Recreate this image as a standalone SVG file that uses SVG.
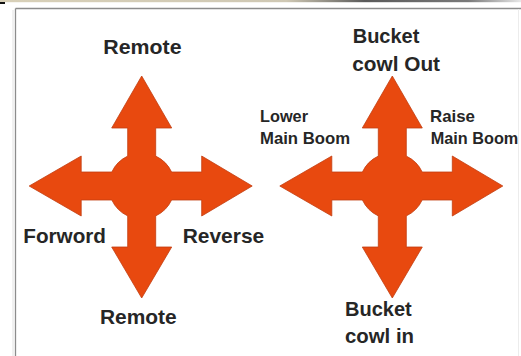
<svg xmlns="http://www.w3.org/2000/svg" width="521" height="356" viewBox="0 0 521 356">
  <defs>
    <style>
      .lbl { font-family: "Liberation Sans", Arial, sans-serif; font-weight: bold; fill: #262626; }
      .big { font-size: 20.5px; }
      .mid { font-size: 20px; }
      .small { font-size: 16.3px; }
      .cross { fill: #E8490F; stroke: #C23E10; stroke-width: 0.8; stroke-linejoin: miter; }
      .frame { stroke: #8c8c8c; stroke-width: 1.3; fill: none; }
    </style>
    <linearGradient id="topband" x1="0" y1="0" x2="1" y2="0">
      <stop offset="0" stop-color="#d8d0b8"/>
      <stop offset="0.55" stop-color="#cfc8b4"/>
      <stop offset="0.7" stop-color="#5a5a5a"/>
      <stop offset="0.9" stop-color="#7a7a7a"/>
      <stop offset="1" stop-color="#e8e8e8"/>
    </linearGradient>
    <!-- four-way arrow cross with a central hub, drawn around (0,0) -->
    <path id="cross4" d="M 0,-110 L 30,-58 L 14,-58 L 14,-29.9 A 33 33 0 0 1 29.9,-14 L 60,-14 L 60,-30 L 110.5,0 L 60,30 L 60,14 L 29.9,14 A 33 33 0 0 1 14,29.9 L 14,61 L 30,61 L 0,112 L -30,61 L -14,61 L -14,29.9 A 33 33 0 0 1 -29.9,14 L -60.5,14 L -60.5,30 L -112.5,0 L -60.5,-30 L -60.5,-14 L -29.9,-14 A 33 33 0 0 1 -14,-29.9 L -14,-58 L -30,-58 Z"/>
  </defs>

  <rect width="521" height="356" fill="#ffffff"/>

  <!-- panel edge -->
  <g id="frame">
    <rect x="0" y="0" width="521" height="2.2" fill="url(#topband)"/>
    <rect x="0" y="2" width="5" height="2" fill="#111"/>
    <line class="frame" x1="15.5" y1="8.5" x2="521" y2="8.5"/>
    <line class="frame" x1="15.5" y1="8.5" x2="15.5" y2="356"/>
    <line x1="13" y1="10" x2="13" y2="356" stroke="#e2e2e2" stroke-width="1"/>
    <line x1="518.5" y1="9" x2="518.5" y2="356" stroke="#ececec" stroke-width="1"/>
  </g>

  <!-- drive control -->
  <g id="drive-cross">
    <use href="#cross4" class="cross" transform="translate(141.7,186)"/>
  </g>
  <g id="drive-up"><text class="lbl big" x="103.3" y="54" textLength="78.3" lengthAdjust="spacingAndGlyphs">Remote</text></g>
  <g id="drive-left"><text class="lbl big" x="23.3" y="242.7" textLength="82.7" lengthAdjust="spacingAndGlyphs">Forword</text></g>
  <g id="drive-right"><text class="lbl big" x="182.7" y="242.7" textLength="81.5" lengthAdjust="spacingAndGlyphs">Reverse</text></g>
  <g id="drive-down"><text class="lbl big" x="100" y="323.7" textLength="76.7" lengthAdjust="spacingAndGlyphs">Remote</text></g>

  <!-- boom and bucket control -->
  <g id="boom-cross">
    <use href="#cross4" class="cross" transform="translate(392.3,186)"/>
  </g>
  <g id="boom-up">
    <text class="lbl mid" x="352.7" y="43.3" textLength="66.7" lengthAdjust="spacingAndGlyphs">Bucket</text>
    <text class="lbl mid" x="352.3" y="71" textLength="87.7" lengthAdjust="spacingAndGlyphs">cowl Out</text>
  </g>
  <g id="boom-left">
    <text class="lbl small" x="260" y="122.3" textLength="48" lengthAdjust="spacingAndGlyphs">Lower</text>
    <text class="lbl small" x="260" y="144" textLength="90" lengthAdjust="spacingAndGlyphs">Main Boom</text>
  </g>
  <g id="boom-right">
    <text class="lbl small" x="430" y="122.3" textLength="45" lengthAdjust="spacingAndGlyphs">Raise</text>
    <text class="lbl small" x="430.7" y="144" textLength="87.6" lengthAdjust="spacingAndGlyphs">Main Boom</text>
  </g>
  <g id="boom-down">
    <text class="lbl mid" x="345" y="316" textLength="66.7" lengthAdjust="spacingAndGlyphs">Bucket</text>
    <text class="lbl mid" x="345" y="342.7" textLength="69" lengthAdjust="spacingAndGlyphs">cowl in</text>
  </g>
</svg>
